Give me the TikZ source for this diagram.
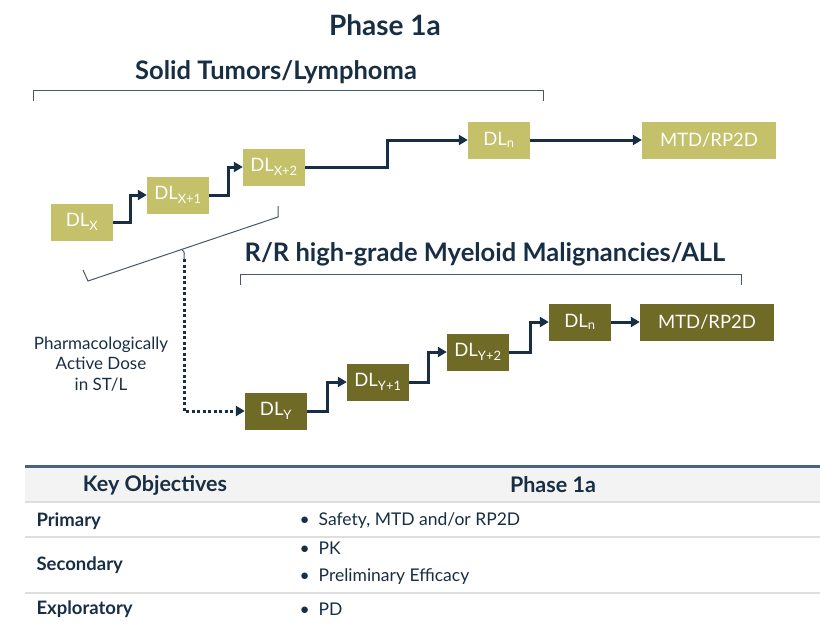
\documentclass[tikz,border=0pt]{standalone}
\usepackage{fontspec}
\setmainfont{Lato}
\usetikzlibrary{arrows.meta}
\definecolor{navy}{RGB}{24,46,68}
\definecolor{olivelight}{RGB}{197,192,106}
\definecolor{olivedark}{RGB}{111,106,38}
\definecolor{rulegray}{RGB}{222,222,222}
\definecolor{headgray}{RGB}{243,243,243}
\definecolor{steel}{RGB}{74,100,128}
\tikzset{
  stbox/.style={fill=olivelight,text=white,minimum width=62pt,minimum height=37pt,
    inner sep=0pt,font=\fontsize{18.5}{20}\selectfont},
  rrbox/.style={stbox,fill=olivedark},
  steparrow/.style={navy,line width=3pt,-{Triangle[length=9pt,width=10pt]}},
  dotarrow/.style={navy,line width=3pt,dash pattern=on 3pt off 2.5pt,-{Triangle[length=9pt,width=10pt]}},
  brace/.style={navy!80,line width=1pt},
  heading/.style={text=navy,font=\bfseries\fontsize{25.5}{28}\selectfont},
  cell/.style={text=navy,font=\fontsize{17.5}{20}\selectfont,anchor=west},
  rowhead/.style={cell,font=\bfseries\fontsize{18.5}{21}\selectfont},
  headcell/.style={text=navy,font=\bfseries\fontsize{21.5}{24}\selectfont}
}
\begin{document}
\begin{tikzpicture}[x=1pt,y=-1pt]
\useasboundingbox (0,0) rectangle (820,632);
\node[heading,font=\bfseries\fontsize{28}{31}\selectfont] (title) at (385,25) {Phase 1a};

% solid tumors / lymphoma
\node[heading] (sthead) at (276,72) {Solid Tumors/Lymphoma};
\draw[brace] (33,101) -- (33,90) -- (543,90) -- (543,101);
\node[stbox] (dlx) at (82,222) {DL\textsubscript{X}};
\node[stbox] (dlx1) at (178,195) {DL\textsubscript{X+1}};
\node[stbox] (dlx2) at (274,167) {DL\textsubscript{X+2}};
\node[stbox] (dln) at (499,140) {DL\textsubscript{n}};
\node[stbox,minimum width=134pt] (mtd) at (709,140) {MTD/RP2D};
\draw[steparrow] (dlx.east) -- ++(17,0) |- (dlx1.west);
\draw[steparrow] (dlx1.east) -- ++(19,0) |- (dlx2.west);
\draw[steparrow] (dlx2.east) -- ++(82,0) |- (dln.west);
\draw[steparrow] (dln.east) -- (mtd.west);

% bracket to heme
\coordinate (notch) at (184,259);
\draw[brace] (83,270) -- (88,281) -- (278,217) -- (278,206);
\draw[brace] (182,250) to[out=-20,in=90] (notch);
\node[text=navy,font=\fontsize{17}{20.5}\selectfont,align=center] (pad) at (101,364)
  {Pharmacologically\\Active Dose\\in ST/L};

% R/R heme
\node[heading] (rrhead) at (485,254) {R/R high-grade Myeloid Malignancies/ALL};
\draw[brace] (240,285) -- (240,274) -- (741,274) -- (741,285);
\node[rrbox] (dly) at (276,411) {DL\textsubscript{Y}};
\node[rrbox] (dly1) at (378,382) {DL\textsubscript{Y+1}};
\node[rrbox] (dly2) at (478,352) {DL\textsubscript{Y+2}};
\node[rrbox] (dlm) at (580,322) {DL\textsubscript{n}};
\node[rrbox,minimum width=134pt] (mtd2) at (707,322) {MTD/RP2D};
\draw[dotarrow] (notch) |- (dly.west);
\draw[steparrow] (dly.east) -- ++(20,0) |- (dly1.west);
\draw[steparrow] (dly1.east) -- ++(19,0) |- (dly2.west);
\draw[steparrow] (dly2.east) -- ++(21,0) |- (dlm.west);
\draw[steparrow] (dlm.east) -- (mtd2.west);

% objectives table
\fill[headgray] (25,467) rectangle (820,501);
\draw[steel,line width=3pt] (25,466) -- (820,466);
\draw[rulegray,line width=1.2pt] (25,502) -- (820,502);
\draw[rulegray,line width=1.8pt] (25,537) -- (820,537);
\draw[rulegray,line width=1.8pt] (25,593) -- (820,593);
\node[headcell] (keyobj) at (155,485) {Key Objectives};
\node[headcell] (phasecol) at (553,485) {Phase 1a};
\node[rowhead] (prim) at (33,521) {Primary};
\node[cell] (primtxt) at (296,521) {\textbullet\hspace{9pt}Safety, MTD and/or RP2D};
\node[rowhead] (sec) at (33,565) {Secondary};
\node[cell] (sectxt1) at (296,548) {\textbullet\hspace{9pt}PK};
\node[cell] (sectxt2) at (296,577) {\textbullet\hspace{9pt}Preliminary Efficacy};
\node[rowhead] (expl) at (33,609) {Exploratory};
\node[cell] (expltxt) at (296,609) {\textbullet\hspace{9pt}PD};
\end{tikzpicture}
\end{document}
